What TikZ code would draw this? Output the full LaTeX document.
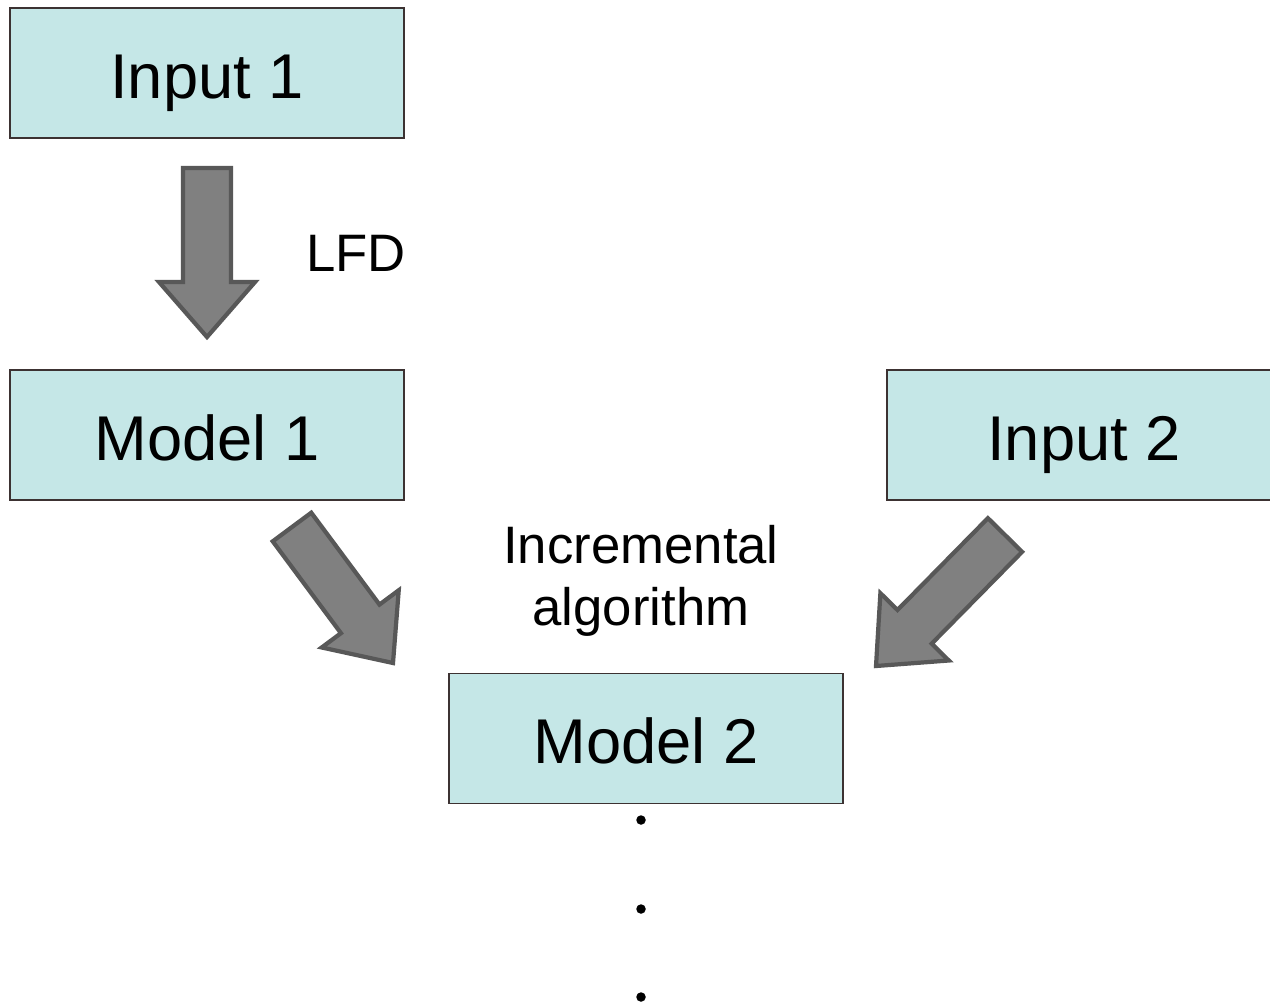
\documentclass[tikz,border=0pt]{standalone}
\usepackage{fontspec}
\setmainfont{Liberation Sans}
\usetikzlibrary{calc}
\definecolor{boxfill}{RGB}{197,231,231}
\definecolor{boxline}{RGB}{60,50,50}
\definecolor{arrowfill}{RGB}{128,128,128}
\definecolor{arrowline}{RGB}{88,88,88}
\begin{document}
\begin{tikzpicture}[
    x=0.02cm, y=-0.02cm,
    b/.style={rectangle, draw=boxline, fill=boxfill, line width=0.7pt,
              minimum width=7.88cm, minimum height=2.6cm, inner sep=0pt,
              text height=1.2cm, text depth=0.2cm,
              font=\fontsize{36}{40}\selectfont},
    lbl/.style={inner sep=0pt, align=center, font=\fontsize{30}{35}\selectfont},
    dot/.style={circle, fill=black, inner sep=0pt, minimum size=0.19cm},
    fatarrow/.style={draw=arrowline, fill=arrowfill, line width=2.4pt}
]
\useasboundingbox (0,0) rectangle (1270,1005);
\node[b] (in1) at (207,73) {Input 1};
\node[b] (m1) at (207,435) {Model 1};
\node[b] (in2) at (1084,435) {Input 2};
\node[b] (m2) at (646,738.5) {Model 2};
% block arrows
\coordinate (lfd-s) at (207,168);
\coordinate (lfd-t) at (207,337);
\coordinate (inc-s) at (292,527);
\coordinate (inc-t) at (393,663);
\coordinate (new-s) at (1005,535);
\coordinate (new-t) at (876,666);
\foreach \s/\t in {lfd-s/lfd-t, inc-s/inc-t, new-s/new-t} {
    \coordinate (\s-h) at ($(\t)!1.1cm!(\s)$);
    \draw[fatarrow] ($(\s)!0.48cm!90:(\t)$) -- ($(\s-h)!0.48cm!90:(\t)$)
        -- ($(\s-h)!0.96cm!90:(\t)$) -- (\t) -- ($(\s-h)!0.96cm!-90:(\t)$)
        -- ($(\s-h)!0.48cm!-90:(\t)$) -- ($(\s)!0.48cm!-90:(\t)$) -- cycle;
}
\node[lbl] (lfd) at (356,253) {LFD};
\node[lbl] (inc) at (641,581) {Incremental\\algorithm};
\foreach \i/\y in {1/820, 2/909, 3/997} {
    \node[dot] (dot\i) at (641,\y) {};
}
\end{tikzpicture}
\end{document}
